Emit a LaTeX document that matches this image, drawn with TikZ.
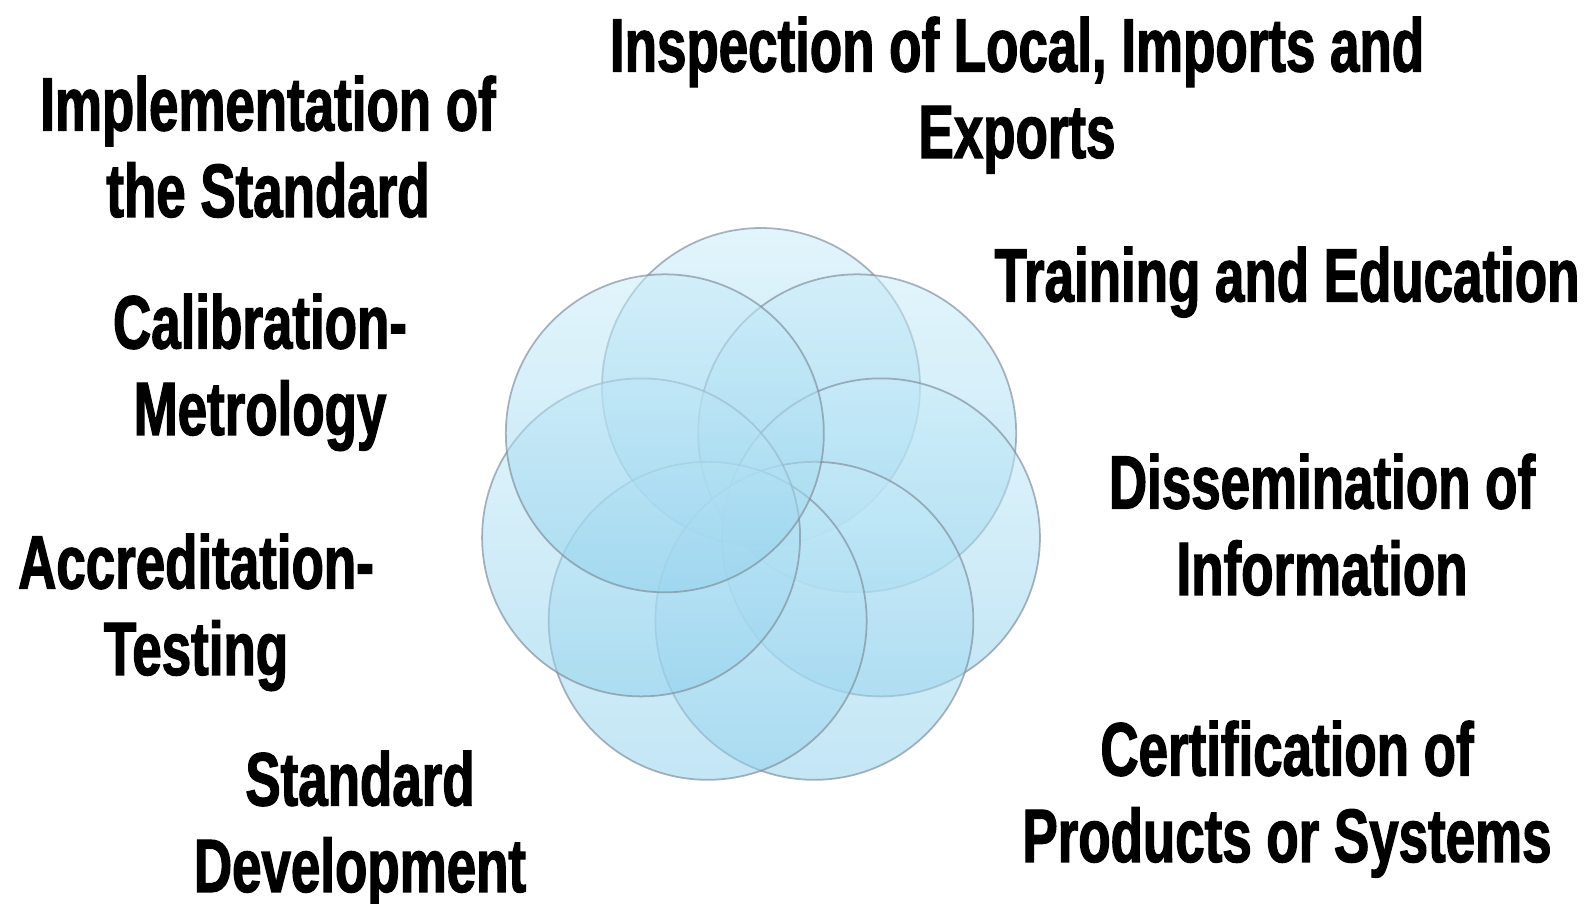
\documentclass[tikz,border=0pt]{standalone}
\usepackage{xcolor}
\usepackage{tikz}
\usepackage{fontspec}
\newfontfamily\labelfont[FakeStretch=0.70,FakeBold=1.6]{Liberation Sans}
\definecolor{petaltop}{RGB}{201, 236, 249}
\definecolor{petalbottom}{RGB}{146, 209, 237}
\definecolor{petalline}{RGB}{125, 140, 152}
\usetikzlibrary{shapes, positioning, calc}

\begin{document}
\begin{tikzpicture}[
    petal/.style={circle, minimum size=3.18cm, inner sep=0pt, top color=petaltop, bottom color=petalbottom, fill opacity=0.55, draw=petalline, draw opacity=0.65, line width=0.5pt},
    topic/.style={anchor=north, inner sep=0pt, align=center, font=\labelfont\bfseries\fontsize{21.5}{24.6}\selectfont}
]
    \useasboundingbox (0, 0) rectangle (15.86, -9.03);

    % Ring of circles
    \coordinate (hub) at (7.61, -5.10);
    \node[petal] (p1) at ($(hub) + (90:1.23)$) {};
    \node[petal] (p2) at ($(hub) + (38.57:1.23)$) {};
    \node[petal] (p3) at ($(hub) + (-12.86:1.23)$) {};
    \node[petal] (p4) at ($(hub) + (-64.29:1.23)$) {};
    \node[petal] (p5) at ($(hub) + (-115.71:1.23)$) {};
    \node[petal] (p6) at ($(hub) + (-167.14:1.23)$) {};
    \node[petal] (p7) at ($(hub) + (141.43:1.23)$) {};

    % Left side
    \node[topic] (impl) at (2.68, -0.75) {Implementation of\\the Standard};
    \node[topic] (calib) at (2.60, -2.93) {Calibration-\\Metrology};
    \node[topic] (accr) at (1.96, -5.33) {Accreditation-\\Testing};
    \node[topic] (stdev) at (3.60, -7.50) {Standard\\Development};

    % Right side
    \node[topic] (insp) at (10.17, -0.16) {Inspection of Local, Imports and\\Exports};
    \node[topic] (train) at (12.87, -2.46) {Training and Education};
    \node[topic] (dissem) at (13.22, -4.53) {Dissemination of\\Information};
    \node[topic] (cert) at (12.87, -7.20) {Certification of\\Products or Systems};

\end{tikzpicture}
\end{document}
